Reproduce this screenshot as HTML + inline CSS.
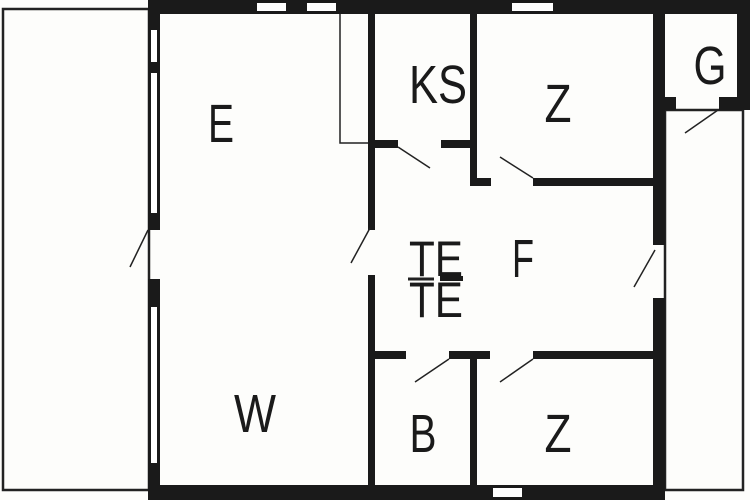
<!DOCTYPE html>
<html><head><style>body{margin:0;background:#fff}svg{display:block}text{font-family:"Liberation Sans",sans-serif;font-size:54px;fill:#1a1a1a;text-anchor:middle}</style></head><body>
<svg width="750" height="500" viewBox="0 0 750 500">
<rect width="750" height="500" fill="#fdfdfb"/>
<g fill="none" stroke="#222" stroke-width="2.5">
<rect x="3" y="9" width="146" height="481"/>
<rect x="665" y="110" width="78" height="380"/>
<polyline points="340,14 340,143 368,143" stroke-width="1.5"/>
</g>
<g fill="#1a1a1a">
<rect x="148" y="0" width="517" height="14"/>
<rect x="148" y="0" width="12" height="230"/>
<rect x="148" y="279" width="12" height="221"/>
<rect x="148" y="485" width="517" height="15"/>
<rect x="653" y="0" width="12" height="245"/>
<rect x="653" y="298" width="12" height="202"/>
<rect x="665" y="0" width="85" height="14"/>
<rect x="737" y="0" width="13" height="110"/>
<rect x="665" y="97" width="11" height="13"/>
<rect x="719" y="97" width="31" height="13"/>
<rect x="368" y="14" width="7" height="216"/>
<rect x="368" y="275" width="7" height="212"/>
<rect x="470" y="14" width="7" height="171"/>
<rect x="375" y="140" width="23" height="8"/>
<rect x="441" y="140" width="29" height="8"/>
<rect x="470" y="178" width="21" height="8"/>
<rect x="533" y="178" width="120" height="8"/>
<rect x="375" y="351" width="31" height="8"/>
<rect x="449" y="351" width="41" height="8"/>
<rect x="533" y="351" width="120" height="8"/>
<rect x="470" y="351" width="7" height="136"/>
<rect x="440" y="276" width="23" height="5"/>
</g>
<g fill="#fff">
<rect x="151" y="30" width="6" height="32"/>
<rect x="151" y="73" width="6" height="140"/>
<rect x="151" y="307" width="6" height="156"/>
<rect x="257" y="3" width="29" height="8"/>
<rect x="307" y="3" width="29" height="8"/>
<rect x="512" y="3" width="41" height="8"/>
<rect x="493" y="488" width="29" height="9"/>
</g>
<g stroke="#222" stroke-width="1.5">
<line x1="148" y1="230" x2="130" y2="267"/>
<line x1="370" y1="228" x2="351" y2="263"/>
<line x1="398" y1="147" x2="430" y2="168"/>
<line x1="533" y1="178" x2="500" y2="157"/>
<line x1="718" y1="110" x2="685" y2="133"/>
<line x1="655" y1="250" x2="634" y2="287"/>
<line x1="449" y1="359" x2="415" y2="382"/>
<line x1="533" y1="359" x2="500" y2="382"/>
<line x1="408" y1="279" x2="434" y2="279" stroke-width="3"/>
</g>
<text x="221" y="142" textLength="26" lengthAdjust="spacingAndGlyphs">E</text>
<text x="438" y="103" textLength="58" lengthAdjust="spacingAndGlyphs">KS</text>
<text x="558" y="122" textLength="27" lengthAdjust="spacingAndGlyphs">Z</text>
<text x="710" y="84" textLength="33" lengthAdjust="spacingAndGlyphs">G</text>
<text x="523" y="277" textLength="22" lengthAdjust="spacingAndGlyphs">F</text>
<text x="255" y="432" textLength="42" lengthAdjust="spacingAndGlyphs">W</text>
<text x="423" y="452" textLength="27" lengthAdjust="spacingAndGlyphs">B</text>
<text x="558" y="452" textLength="27" lengthAdjust="spacingAndGlyphs">Z</text>
<text x="436" y="276" style="font-size:50px" textLength="54" lengthAdjust="spacingAndGlyphs">TE</text>
<text x="436" y="317" style="font-size:50px" textLength="54" lengthAdjust="spacingAndGlyphs">TE</text>
</svg>
</body></html>
